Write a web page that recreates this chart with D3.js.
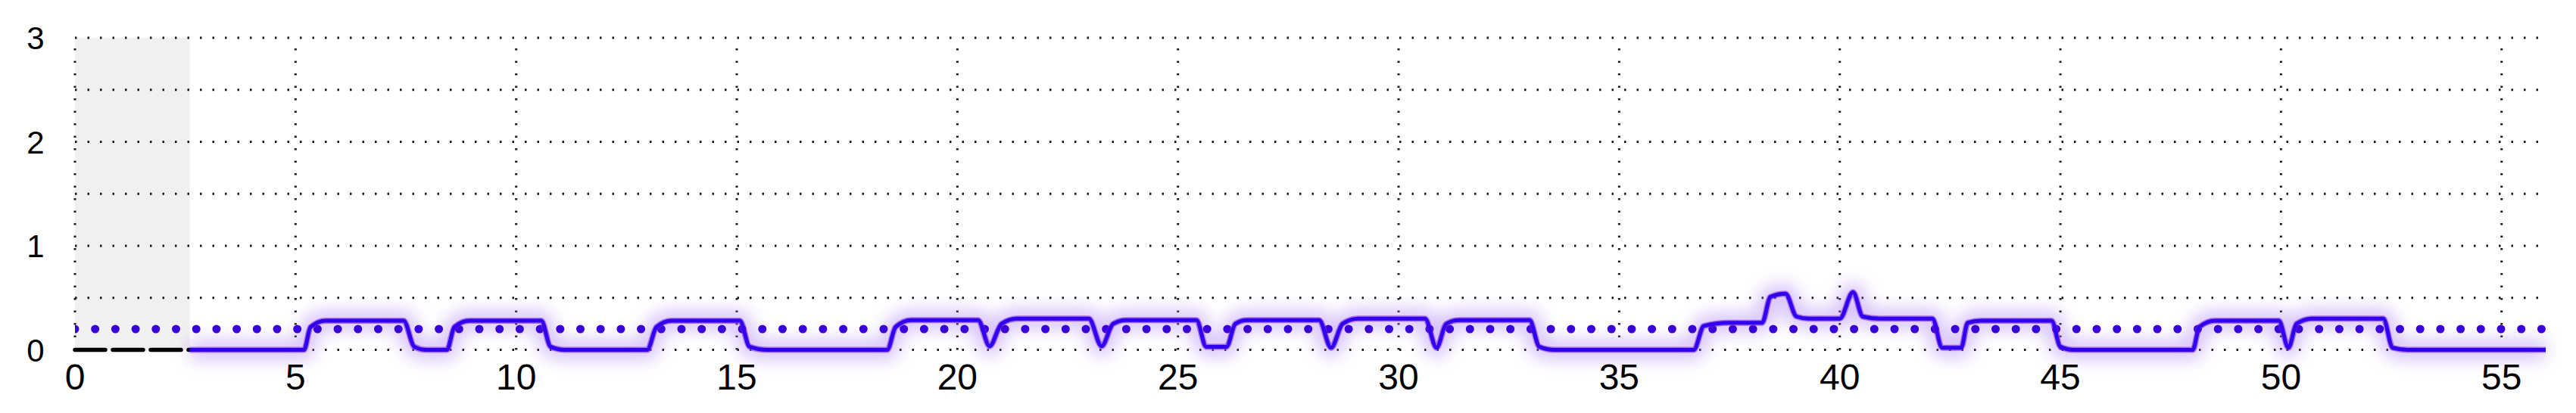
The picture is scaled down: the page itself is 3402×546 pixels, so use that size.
<!DOCTYPE html>
<html>
<head>
<meta charset="utf-8">
<script src="https://cdn.jsdelivr.net/npm/d3@7"></script>
<style>
html,body{margin:0;padding:0;background:#fff;}
svg{display:block;}
</style>
</head>
<body>
<svg id="chart" width="3402" height="546"></svg>
<script>
// ---- data ----
const xTicks = [0,5,10,15,20,25,30,35,40,45,50,55];
const yTicks = [0,1,2,3];
const yGrid = [0,0.5,1,1.5,2,2.5,3];
const thresholdValue = 0.2;
const historyX = [0, 2.6];
const historyY = [0, 0];
const shadeEnd = 2.6;
const seriesX = [2.6,5.19,5.34,5.68,7.45,7.69,7.96,8.43,8.6,8.94,10.57,10.78,11.1,
  12.97,13.18,13.52,15.07,15.29,15.69,18.41,18.6,18.95,20.47,20.73,21.0,21.35,22.98,
  23.27,23.53,23.82,25.42,25.64,26.1,26.3,26.56,28.2,28.47,28.73,29.07,30.6,30.86,
  31.08,31.37,32.97,33.19,33.53,36.69,36.92,37.48,38.24,38.43,38.77,39.02,39.3,40.0,
  40.3,40.52,40.9,42.1,42.32,42.75,42.9,43.2,44.8,45.0,45.3,48.0,48.15,48.5,49.95,
  50.17,50.35,50.7,52.32,52.53,52.87,56];
const seriesY = [0,0,0.22,0.28,0.28,0.03,0,0,0.22,0.28,0.28,0.03,0,
  0,0.22,0.28,0.28,0.03,0,0,0.22,0.285,0.285,0.035,0.25,0.3,0.3,
  0.035,0.25,0.285,0.285,0.03,0.03,0.25,0.285,0.285,0.02,0.25,0.3,0.3,0.02,
  0.25,0.285,0.285,0.03,0,0,0.23,0.26,0.26,0.51,0.54,0.32,0.3,0.3,
  0.555,0.32,0.3,0.3,0.02,0.02,0.26,0.28,0.28,0.03,0,0,0.22,0.28,0.28,
  0.02,0.25,0.3,0.3,0.02,0,0];

// ---- layout ----
const svg = d3.select("#chart");
const x = d3.scaleLinear().domain([0,56]).range([99,3362]);
const y = d3.scaleLinear().domain([0,3]).range([462.5,50]);

const defs = svg.append("defs");
const f = defs.append("filter").attr("id","glow")
  .attr("x","-10%").attr("y","-200%").attr("width","120%").attr("height","500%")
  .attr("filterUnits","objectBoundingBox");
f.append("feGaussianBlur").attr("stdDeviation",11);
defs.append("clipPath").attr("id","plotclip").append("rect")
  .attr("x",x(0)).attr("y",y(3)-2).attr("width",x(56)-x(0)).attr("height",y(0)-y(3)+40);

// shaded history region
svg.append("rect")
  .attr("x",x(0)).attr("y",y(3))
  .attr("width",x(shadeEnd)-x(0)).attr("height",y(0)-y(3))
  .attr("fill","#f0f0f0");

// grid
const grid = svg.append("g");
grid.selectAll("line.h").data(yGrid).join("line")
  .attr("x1",x(0)).attr("x2",x(56))
  .attr("y1",d=>y(d)).attr("y2",d=>y(d))
  .attr("stroke","#1a1a1a").attr("stroke-width",3)
  .attr("stroke-dasharray","2.5 14");
grid.selectAll("line.v").data(xTicks).join("line")
  .attr("x1",d=>x(d)).attr("x2",d=>x(d))
  .attr("y1",y(0)).attr("y2",y(3))
  .attr("stroke","#1a1a1a").attr("stroke-width",3)
  .attr("stroke-dasharray","2.5 14");

const line = d3.line().x((d,i)=>x(d[0])).y(d=>y(d[1])).curve(d3.curveMonotoneX);
const pts = seriesX.map((v,i)=>[v,seriesY[i]]);

// glow
svg.append("path").datum(pts)
  .attr("d",line).attr("fill","none")
  .attr("stroke","#a77af2").attr("stroke-opacity",0.45)
  .attr("stroke-width",26).attr("stroke-linejoin","round")
  .attr("filter","url(#glow)");

// threshold dotted line
svg.append("g").attr("clip-path","url(#plotclip)")
  .append("line")
  .attr("x1",x(0)).attr("x2",x(56))
  .attr("y1",y(thresholdValue)).attr("y2",y(thresholdValue))
  .attr("stroke","#3a00dc").attr("stroke-width",11)
  .attr("stroke-linecap","round").attr("stroke-dasharray","0 26.7");

// history dashed black line
svg.append("path").datum(historyX.map((v,i)=>[v,historyY[i]]))
  .attr("d",d3.line().x(d=>x(d[0])).y(d=>y(d[1])))
  .attr("fill","none").attr("stroke","#000").attr("stroke-width",5.5)
  .attr("stroke-linecap","round").attr("stroke-dasharray","40 10");

// main series
svg.append("path").datum(pts)
  .attr("d",line).attr("fill","none")
  .attr("stroke","#7a1ed8").attr("stroke-opacity",0.55)
  .attr("stroke-width",8).attr("stroke-linejoin","round");
svg.append("path").datum(pts)
  .attr("d",line).attr("fill","none")
  .attr("stroke","#2e00ee")
  .attr("stroke-width",5).attr("stroke-linejoin","round");

// tick labels
svg.append("g").selectAll("text").data(xTicks).join("text")
  .attr("x",d=>x(d)).attr("y",515)
  .attr("text-anchor","middle")
  .attr("font-family","'Liberation Sans', Arial, Helvetica, sans-serif")
  .attr("font-size",48).attr("fill","#000")
  .text(d=>d);
svg.append("g").selectAll("text").data(yTicks).join("text")
  .attr("x",47).attr("y",d=>y(d)+15)
  .attr("text-anchor","middle")
  .attr("font-family","'Liberation Sans', Arial, Helvetica, sans-serif")
  .attr("font-size",42).attr("fill","#000")
  .text(d=>d);
</script>
</body>
</html>
